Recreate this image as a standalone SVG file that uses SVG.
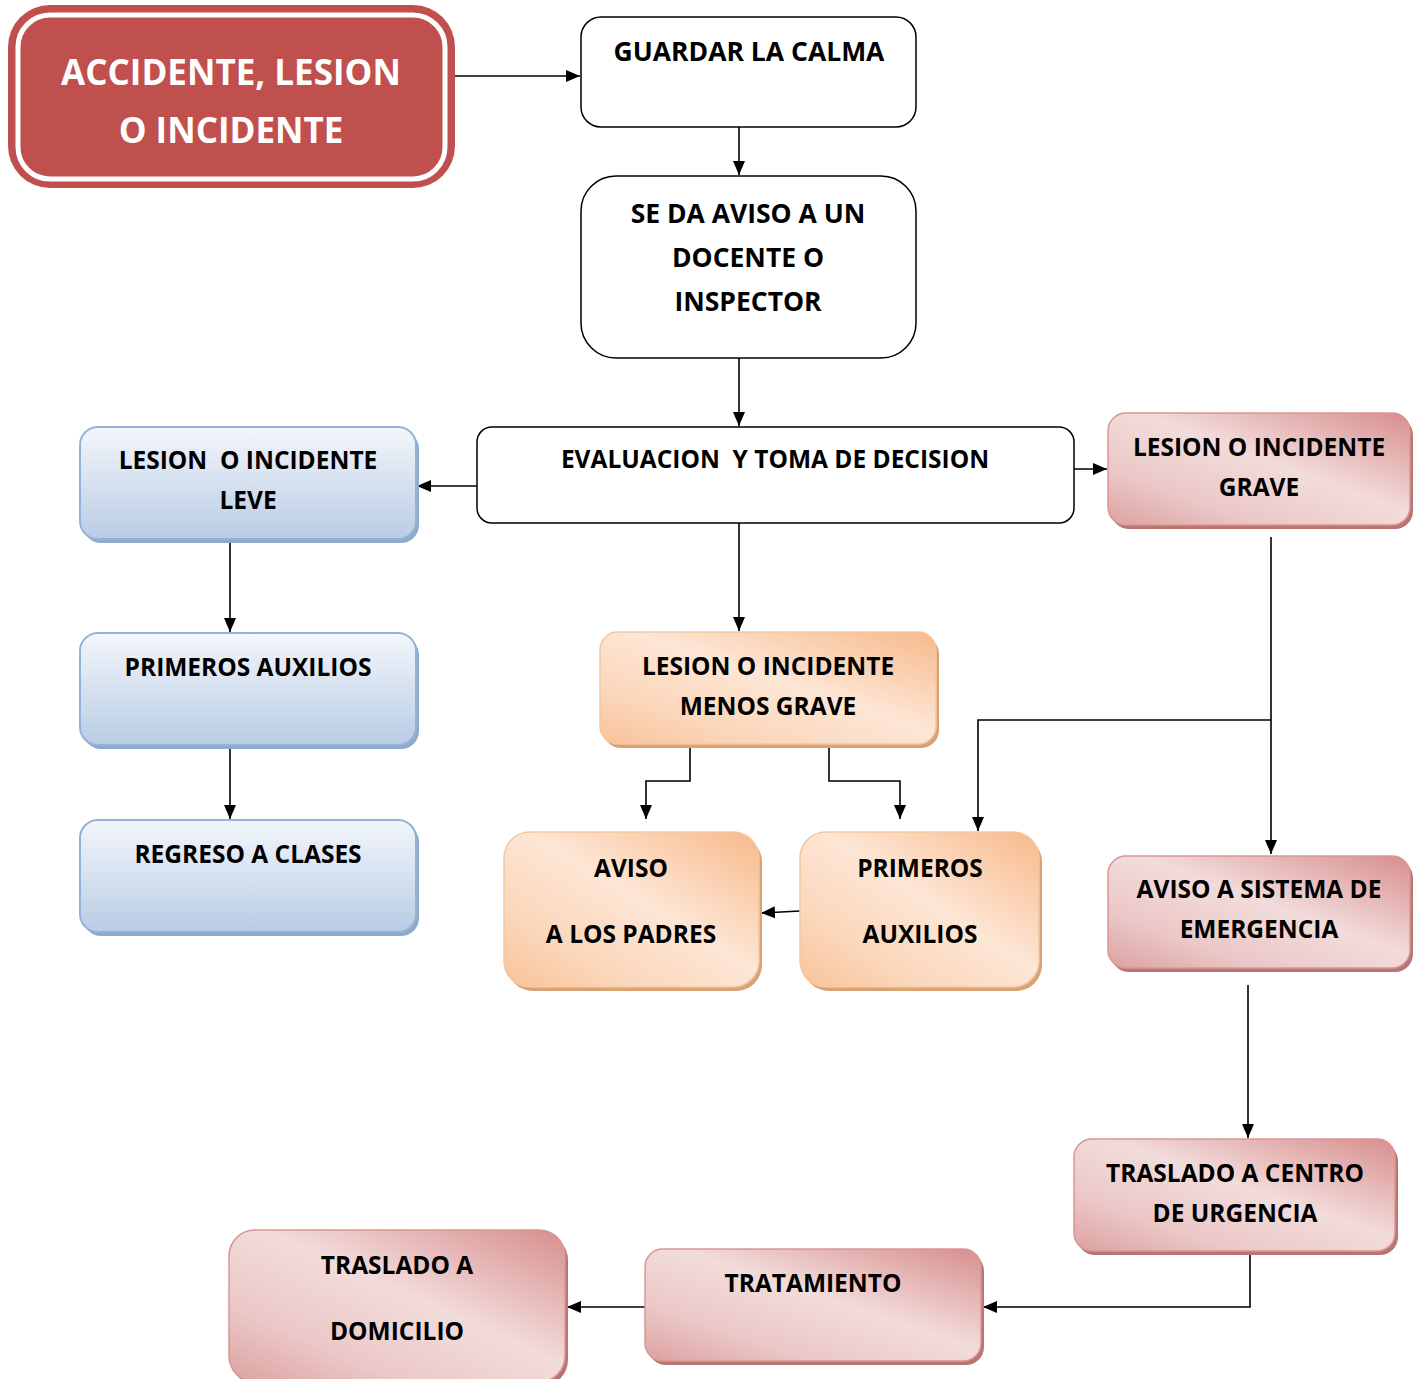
<svg xmlns="http://www.w3.org/2000/svg" width="1420" height="1379" viewBox="0 0 1420 1379">
<style>
.t{font-family:"Open Sans",Lato,"Liberation Sans",sans-serif;font-weight:bold;font-size:24.5px;fill:#000;text-anchor:middle}
.h{font-size:35px;fill:#fff}
.b{font-size:26.5px}
.w{fill:#fff;stroke:#000;stroke-width:1.5}
.c{fill:none;stroke:#000;stroke-width:1.6;marker-end:url(#ah)}
</style>
<defs>
<marker id="ah" viewBox="0 0 14 12" refX="14" refY="6" markerWidth="14" markerHeight="12" markerUnits="userSpaceOnUse" orient="auto"><path d="M0,0L14,6L0,12z" fill="#000"/></marker>
<linearGradient id="gb" x1="0" y1="0" x2="0" y2="1"><stop offset="0" stop-color="#f3f6fb"/><stop offset="0.5" stop-color="#d6e1f0"/><stop offset="1" stop-color="#b8cce4"/></linearGradient>
<linearGradient id="go" x1="1" y1="0" x2="0" y2="1"><stop offset="0" stop-color="#f8b98a"/><stop offset="0.45" stop-color="#fde6d5"/><stop offset="0.75" stop-color="#fbd7bb"/><stop offset="1" stop-color="#f9c298"/></linearGradient>
<linearGradient id="gp" x1="1" y1="0" x2="0" y2="1"><stop offset="0" stop-color="#d78e8d"/><stop offset="0.45" stop-color="#f2dcdb"/><stop offset="0.75" stop-color="#ebc7c7"/><stop offset="1" stop-color="#dca1a0"/></linearGradient>
</defs>

<g id="connectors">
<path class="c" d="M443,76H580"/>
<path class="c" d="M739,127V175"/>
<path class="c" d="M739,358V426"/>
<path class="c" d="M477,486H417"/>
<path class="c" d="M1074,469H1107"/>
<path class="c" d="M739,523V631"/>
<path class="c" d="M230,537V632"/>
<path class="c" d="M230,743V819"/>
<path class="c" d="M690,743V781H646V819"/>
<path class="c" d="M829,743V781H900V819"/>
<path class="c" d="M1271,537V854"/>
<path class="c" d="M1271,720H978V831"/>
<path class="c" d="M800,911L761,913"/>
<path class="c" d="M1248,985V1138"/>
<path class="c" d="M1250,1250V1307H983"/>
<path class="c" d="M645,1307H567"/>
</g>

<g id="n-accidente">
<rect x="8" y="5" width="447" height="183" rx="42" fill="#c0504d"/>
<rect x="18" y="15" width="427" height="164" rx="32" fill="none" stroke="#fff" stroke-width="5"/>
<text class="t h" x="231" y="85">ACCIDENTE, LESION</text>
<text class="t h" x="231" y="143">O INCIDENTE</text>
</g>

<g id="n-guardar">
<rect class="w" x="581" y="17" width="335" height="110" rx="20"/>
<text class="t b" x="749" y="61">GUARDAR LA CALMA</text>
</g>

<g id="n-aviso-docente">
<rect class="w" x="581" y="176" width="335" height="182" rx="35"/>
<text class="t b" x="748" y="223">SE DA AVISO A UN</text>
<text class="t b" x="748" y="267">DOCENTE O</text>
<text class="t b" x="748" y="311">INSPECTOR</text>
</g>

<g id="n-evaluacion">
<rect class="w" x="477" y="427" width="597" height="96" rx="15"/>
<text class="t" x="775" y="468" xml:space="preserve">EVALUACION  Y TOMA DE DECISION</text>
</g>

<g id="n-leve">
<rect x="83" y="431" width="336" height="112" rx="18" fill="#8eaacb"/>
<rect x="80" y="427" width="336" height="112" rx="18" fill="url(#gb)" stroke="#95b3d7" stroke-width="2"/>
<text class="t" x="248" y="469" xml:space="preserve">LESION  O INCIDENTE</text>
<text class="t" x="248" y="509">LEVE</text>
</g>

<g id="n-primeros-leve">
<rect x="83" y="637" width="336" height="112" rx="18" fill="#8eaacb"/>
<rect x="80" y="633" width="336" height="112" rx="18" fill="url(#gb)" stroke="#95b3d7" stroke-width="2"/>
<text class="t" x="248" y="676">PRIMEROS AUXILIOS</text>
</g>

<g id="n-regreso">
<rect x="83" y="824" width="336" height="112" rx="18" fill="#8eaacb"/>
<rect x="80" y="820" width="336" height="112" rx="18" fill="url(#gb)" stroke="#95b3d7" stroke-width="2"/>
<text class="t" x="248" y="863">REGRESO A CLASES</text>
</g>

<g id="n-grave">
<rect x="1111" y="417" width="302" height="112" rx="18" fill="#b97574"/>
<rect x="1108" y="413" width="302" height="112" rx="18" fill="url(#gp)" stroke="#d99694" stroke-width="1.5"/>
<text class="t" x="1259" y="456">LESION O INCIDENTE</text>
<text class="t" x="1259" y="496">GRAVE</text>
</g>

<g id="n-menos-grave">
<rect x="603" y="636" width="336" height="112" rx="18" fill="#d9a275"/>
<rect x="600" y="632" width="336" height="112" rx="18" fill="url(#go)" stroke="#f4c7a1" stroke-width="1.5"/>
<text class="t" x="768" y="675">LESION O INCIDENTE</text>
<text class="t" x="768" y="715">MENOS GRAVE</text>
</g>

<g id="n-aviso-padres">
<rect x="507" y="836" width="255" height="155" rx="26" fill="#d9a275"/>
<rect x="504" y="832" width="255" height="155" rx="26" fill="url(#go)" stroke="#f4c7a1" stroke-width="1.5"/>
<text class="t" x="631" y="877">AVISO</text>
<text class="t" x="631" y="943">A LOS PADRES</text>
</g>

<g id="n-primeros-menos">
<rect x="803" y="836" width="239" height="155" rx="26" fill="#d9a275"/>
<rect x="800" y="832" width="239" height="155" rx="26" fill="url(#go)" stroke="#f4c7a1" stroke-width="1.5"/>
<text class="t" x="920" y="877">PRIMEROS</text>
<text class="t" x="920" y="943">AUXILIOS</text>
</g>

<g id="n-sistema">
<rect x="1111" y="860" width="302" height="112" rx="18" fill="#b97574"/>
<rect x="1108" y="856" width="302" height="112" rx="18" fill="url(#gp)" stroke="#d99694" stroke-width="1.5"/>
<text class="t" x="1259" y="898">AVISO A SISTEMA DE</text>
<text class="t" x="1259" y="938">EMERGENCIA</text>
</g>

<g id="n-centro">
<rect x="1077" y="1143" width="321" height="112" rx="18" fill="#b97574"/>
<rect x="1074" y="1139" width="321" height="112" rx="18" fill="url(#gp)" stroke="#d99694" stroke-width="1.5"/>
<text class="t" x="1235" y="1182">TRASLADO A CENTRO</text>
<text class="t" x="1235" y="1222">DE URGENCIA</text>
</g>

<g id="n-tratamiento">
<rect x="648" y="1253" width="336" height="112" rx="18" fill="#b97574"/>
<rect x="645" y="1249" width="336" height="112" rx="18" fill="url(#gp)" stroke="#d99694" stroke-width="1.5"/>
<text class="t" x="813" y="1292">TRATAMIENTO</text>
</g>

<g id="n-domicilio">
<rect x="232" y="1234" width="336" height="152" rx="26" fill="#b97574"/>
<rect x="229" y="1230" width="336" height="152" rx="26" fill="url(#gp)" stroke="#d99694" stroke-width="1.5"/>
<text class="t" x="397" y="1274">TRASLADO A</text>
<text class="t" x="397" y="1340">DOMICILIO</text>
</g>
</svg>
